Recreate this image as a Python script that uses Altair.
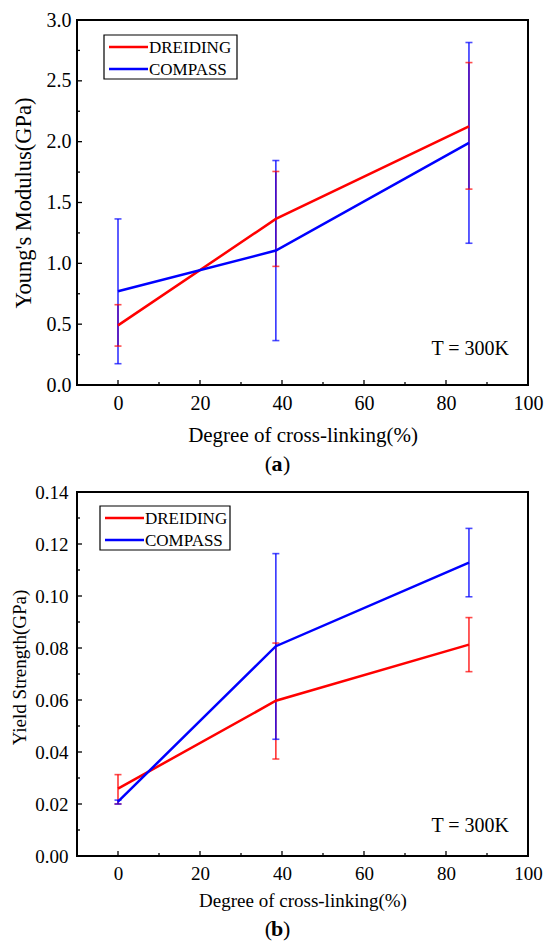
import altair as alt
import pandas as pd

# ---------------- data ----------------
x_crosslink = [0, 38.5, 85.6]
series_names = ["DREIDING", "COMPASS"]
series_colors = ["#ff0000", "#0000ff"]

a_dreiding = [0.49, 1.365, 2.125]
a_dreiding_lo = [0.32, 0.975, 1.61]
a_dreiding_hi = [0.66, 1.755, 2.65]
a_compass = [0.77, 1.105, 1.99]
a_compass_lo = [0.175, 0.365, 1.165]
a_compass_hi = [1.365, 1.845, 2.815]

b_dreiding = [0.0259, 0.0597, 0.0813]
b_dreiding_lo = [0.0200, 0.0373, 0.0709]
b_dreiding_hi = [0.0313, 0.0819, 0.0917]
b_compass = [0.0209, 0.0807, 0.1128]
b_compass_lo = [0.0200, 0.0449, 0.0997]
b_compass_hi = [0.0215, 0.1163, 0.1260]

x_major = [0, 20, 40, 60, 80, 100]
x_minor = [10, 30, 50, 70, 90]
a_y_major = [0, 0.5, 1.0, 1.5, 2.0, 2.5, 3.0]
a_y_minor = [0.25, 0.75, 1.25, 1.75, 2.25, 2.75]
b_y_major = [0, 0.02, 0.04, 0.06, 0.08, 0.10, 0.12, 0.14]
b_y_minor = [0.01, 0.03, 0.05, 0.07, 0.09, 0.11, 0.13]

FONT = "Liberation Serif, Times New Roman, serif"
W = 451


def table(d, dlo, dhi, c, clo, chi):
    rows = []
    for name, v, lo, hi in [("DREIDING", d, dlo, dhi), ("COMPASS", c, clo, chi)]:
        for xi, vi, l, h in zip(x_crosslink, v, lo, hi):
            rows.append({"x": xi, "series": name, "value": vi, "lo": l, "hi": h})
    return pd.DataFrame(rows)


def txt(s, x, y, size, align="left", weight="normal"):
    return alt.Chart(pd.DataFrame({"s": [s]})).mark_text(
        font=FONT, fontSize=size, fontWeight=weight, align=align,
        baseline="middle", color="black"
    ).encode(text="s:N", x=alt.value(x), y=alt.value(y))


def panel(df, ydom, ymaj, ymin, yfmt, ytitle, H, fs_tick, fs_title, fs_ytitle,
          xtitle_y, ytitle_x, ytitle_dy, ylabpad, legx, legy, legw, tx_right, ty_bottom,
          cap_letter, cap_y):
    xs = alt.Scale(domain=[-10, 100], nice=False, zero=False)
    ys = alt.Scale(domain=ydom, nice=False, zero=False)
    cs = alt.Scale(domain=series_names, range=series_colors)
    xaxis = alt.Axis(
        values=x_major, ticks=False, domain=False, grid=False,
        labelFont=FONT, labelFontSize=fs_tick, labelColor="black", labelPadding=8,
        title="Degree of cross-linking(%)", titleFont=FONT, titleFontSize=fs_title,
        titleFontWeight="normal", titleColor="black", titleY=xtitle_y,
        titleBaseline="middle", labelFlush=False,
    )
    yaxis = alt.Axis(
        values=ymaj, format=yfmt, ticks=False, domain=False, grid=False,
        labelFont=FONT, labelFontSize=fs_tick, labelColor="black", labelPadding=ylabpad,
        title=ytitle, titleFont=FONT, titleFontSize=fs_ytitle, titleFontWeight="normal",
        titleColor="black", titleX=ytitle_x, titleY=H / 2 + ytitle_dy,
        titleBaseline="middle", titleAlign="center", titleAngle=270,
    )
    base = alt.Chart(df)
    col = alt.Color("series:N", scale=cs, legend=None)
    lines = base.mark_line(strokeWidth=2.5).encode(
        x=alt.X("x:Q", scale=xs, axis=xaxis),
        y=alt.Y("value:Q", scale=ys, axis=yaxis),
        color=col,
        order=alt.Order("x:Q"),
    )
    bars = base.mark_rule(strokeWidth=1.6, opacity=0.8).encode(
        x="x:Q", y="lo:Q", y2="hi:Q", color=col,
    )
    caps_lo = base.mark_tick(thickness=1.6, size=7, orient="horizontal").encode(
        x="x:Q", y="lo:Q", color=col,
    )
    caps_hi = base.mark_tick(thickness=1.6, size=7, orient="horizontal").encode(
        x="x:Q", y="hi:Q", color=col,
    )
    # inward ticks
    xt_maj = alt.Chart(pd.DataFrame({"t": x_major})).mark_rule(color="black", strokeWidth=1.3).encode(
        x="t:Q", y=alt.value(H), y2=alt.value(H - 5))
    xt_min = alt.Chart(pd.DataFrame({"t": x_minor})).mark_rule(color="black", strokeWidth=1.3).encode(
        x="t:Q", y=alt.value(H), y2=alt.value(H - 3))
    yt_maj = alt.Chart(pd.DataFrame({"t": ymaj})).mark_rule(color="black", strokeWidth=1.3).encode(
        y="t:Q", x=alt.value(0), x2=alt.value(5))
    yt_min = alt.Chart(pd.DataFrame({"t": ymin})).mark_rule(color="black", strokeWidth=1.3).encode(
        y="t:Q", x=alt.value(0), x2=alt.value(3))

    # legend (drawn by hand, boxed)
    legend_layers = [
        alt.Chart(pd.DataFrame({"k": [0]})).mark_rect(
            fill="white", stroke="black", strokeWidth=1.2
        ).encode(x=alt.value(legx), x2=alt.value(legx + legw),
                 y=alt.value(legy), y2=alt.value(legy + 44))
    ]
    for i, (name, colr) in enumerate(zip(series_names, series_colors)):
        yy = legy + 12 + 22 * i
        legend_layers.append(
            alt.Chart(pd.DataFrame({"k": [name]})).mark_rule(
                color=colr, strokeWidth=2.5
            ).encode(x=alt.value(legx + 5), x2=alt.value(legx + 44), y=alt.value(yy))
        )
        legend_layers.append(txt(name, legx + 45, yy + 1, 17))

    temp = txt("T = 300K", W - tx_right, H - ty_bottom, 20, align="right")
    cx = 200
    cap1 = txt("(", cx - 5, H + cap_y, 22, align="right")
    cap2 = txt(cap_letter, cx, H + cap_y, 22, align="center", weight="bold")
    cap3 = txt(")", cx + 6, H + cap_y, 22, align="left")
    return alt.layer(
        bars, caps_lo, caps_hi, lines, xt_maj, xt_min, yt_maj, yt_min,
        *legend_layers, temp, cap1, cap2, cap3
    ).properties(width=W, height=H)


df_a = table(a_dreiding, a_dreiding_lo, a_dreiding_hi, a_compass, a_compass_lo, a_compass_hi)
df_b = table(b_dreiding, b_dreiding_lo, b_dreiding_hi, b_compass, b_compass_lo, b_compass_hi)

pa = panel(df_a, [0, 3.0], a_y_major, a_y_minor, ".1f", "Young's Modulus(GPa)", 365,
           20, 21, 22.5, 50, -54, 0, 6, 27, 15, 133, 19, 36, "a", 79)
pb = panel(df_b, [0, 0.14], b_y_major, b_y_minor, ".2f", "Yield Strength(GPa)", 364,
           19, 19, 19, 44, -58, -7, 9, 23, 14, 130, 19, 30, "b", 73)

chart = alt.vconcat(pa, pb, spacing=107, bounds="flush").resolve_scale(
    color="independent"
).configure_view(
    stroke="black", strokeWidth=2
).properties(
    padding={"left": 9, "top": 9, "right": 0, "bottom": 0}, background="white"
)

chart.save("out.html", embed_options={"renderer": "svg", "actions": False})
